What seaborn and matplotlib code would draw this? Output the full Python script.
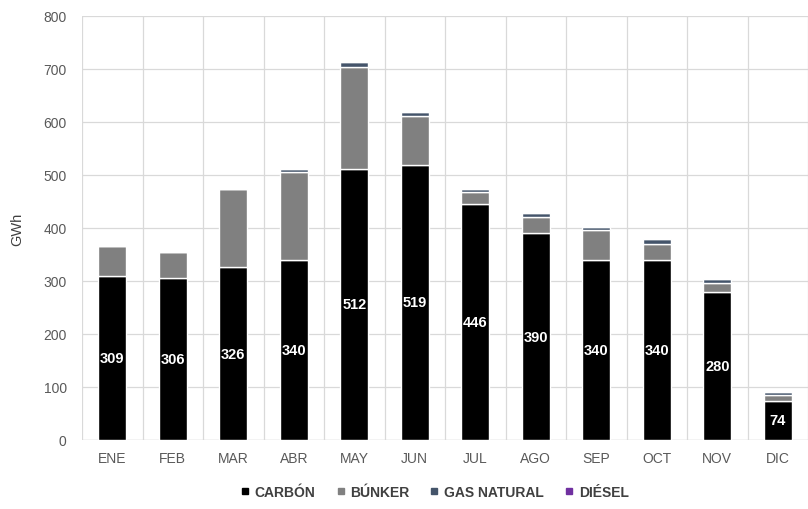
import numpy as np
import pandas as pd
import seaborn as sns
import matplotlib.pyplot as plt
from matplotlib.lines import Line2D

# monthly generation by fuel (GWh)
meses = ['ENE', 'FEB', 'MAR', 'ABR', 'MAY', 'JUN', 'JUL', 'AGO', 'SEP', 'OCT', 'NOV', 'DIC']
carbon = [309, 306, 326, 340, 512, 519, 446, 390, 340, 340, 280, 74]
bunker = [57, 49, 148, 165, 192, 92, 21, 31, 56, 29, 17, 10]
gas_natural = [0, 0, 0, 6, 9, 7, 7, 7, 6, 10, 6, 6]
diesel = [0, 0, 0, 0, 0, 0, 0, 0, 0, 0, 0, 0]

series = ['CARBÓN', 'BÚNKER', 'GAS NATURAL', 'DIÉSEL']
colores = ['#000000', '#808080', '#44546A', '#7030A0']

sns.set_theme(style='white')
plt.rcParams['font.family'] = ['Liberation Sans', 'DejaVu Sans']

df = pd.DataFrame({'mes': meses, 'CARBÓN': carbon, 'BÚNKER': bunker,
                   'GAS NATURAL': gas_natural, 'DIÉSEL': diesel})

fig = plt.figure(figsize=(8.08, 5.10), dpi=100)
ax = fig.add_axes([0.1015, 0.1353, 0.8985, 0.8314])

base = np.zeros(len(meses))
for s, c in zip(series, colores):
    sns.barplot(data=df, x='mes', y=s, color=c, width=0.47, bottom=base,
                edgecolor='white', linewidth=1.0, saturation=1, ax=ax, zorder=3)
    base = base + df[s].values

# white value labels in the middle of the coal segment
for i, v in enumerate(carbon):
    ax.text(i, v / 2, str(v), ha='center', va='center', color='white',
            fontsize=10.5, fontweight='bold', zorder=5)

ax.set_ylim(0, 800)
ax.set_xlim(-0.5, 11.36)
ax.set_yticks(range(0, 801, 100))
ax.set_xticks(np.arange(-0.5, 12, 1), minor=True)
ax.grid(axis='y', color='#d9d9d9', linewidth=0.9, zorder=0)
ax.grid(axis='x', which='minor', color='#d9d9d9', linewidth=0.9, zorder=0)
ax.tick_params(axis='x', which='minor', length=0)
ax.tick_params(axis='x', which='major', length=0, labelsize=10, colors='#595959', pad=8)
ax.tick_params(axis='y', which='major', length=0, labelsize=10, colors='#595959', pad=11)
for sp in ax.spines.values():
    sp.set_visible(False)
ax.axhline(0, color='#d9d9d9', linewidth=1, zorder=1)
ax.set_xlabel('')
ax.set_ylabel('GWh', fontsize=10.5, color='#404040', labelpad=14)

handles = [Line2D([], [], marker='s', linestyle='', color=c, markersize=4.5) for c in colores]
fig.legend(handles, series, loc='center', bbox_to_anchor=(0.538, 0.033), ncol=4,
           frameon=False, handlelength=0.6, handletextpad=0.4, columnspacing=1.5,
           prop={'size': 10, 'weight': 'bold'}, labelcolor='#404040')

fig.savefig('out.png', dpi=100)
